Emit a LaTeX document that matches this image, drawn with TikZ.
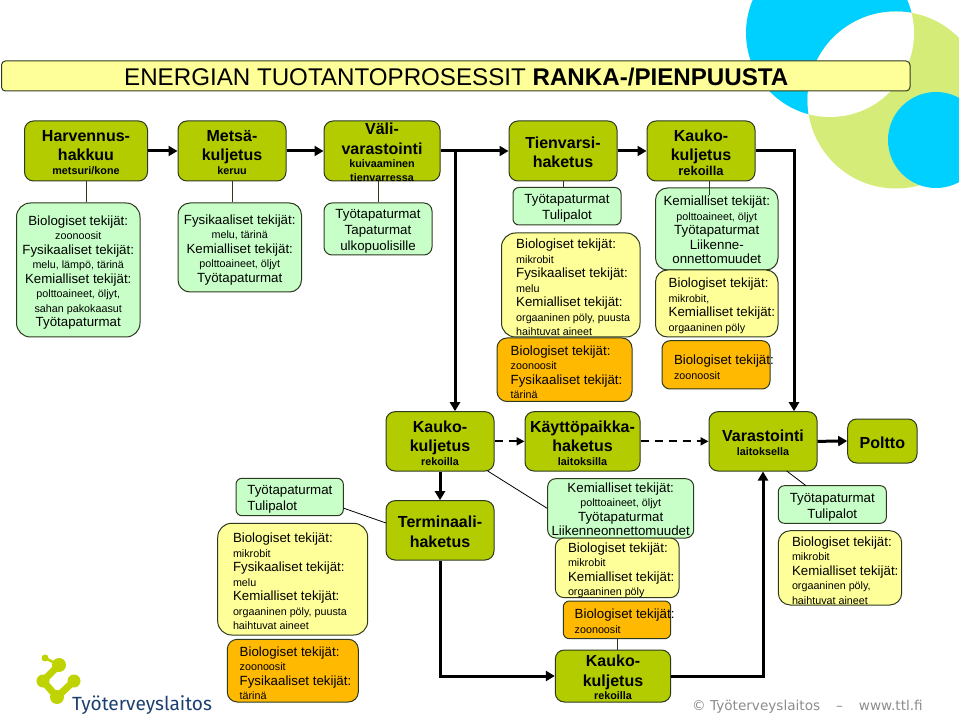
\documentclass[tikz,border=0pt]{standalone}
\usepackage{fontspec}
\setmainfont{Liberation Sans}
\newfontfamily\ttlfont{DejaVu Sans}
\newfontfamily\logofont{Fira Sans}
\usetikzlibrary{positioning, arrows.meta}
\definecolor{vihrea}{HTML}{B2CC00}
\definecolor{vaalea}{HTML}{C8FFC8}
\definecolor{keltainen}{HTML}{FFFF99}
\definecolor{oranssi}{HTML}{FFB900}
\definecolor{syaani}{HTML}{00D0FF}
\definecolor{limetti}{HTML}{D5EC78}
\definecolor{reuna}{HTML}{2E3A20}
\definecolor{logovari}{HTML}{BFD300}
\definecolor{logoteksti}{HTML}{1C3F70}
\newcommand{\ruutu}[6]{\node[#1, minimum width={(#5-#3)*1pt}, minimum height={(#6-#4)*1pt}] (#2) at ({(#3+#5)/2},{(#4+#6)/2}) {};}
\newcommand{\pieni}[1]{{\fontsize{10.75}{14.5}\selectfont #1}}
\newcommand{\alle}[1]{{\fontsize{10.8}{13}\selectfont #1}}
\tikzset{
laatikko/.style = {draw = reuna, line width = 1pt, inner sep = 0pt},
vaihe/.style = {laatikko, fill = vihrea, rounded corners = 9pt},
turva/.style = {laatikko, fill = vaalea},
kemia/.style = {laatikko, fill = keltainen},
bio/.style = {laatikko, fill = oranssi},
otsikko/.style = {inner sep = 0pt, align = center, yshift = -1.5pt, font = \fontsize{16}{19.5}\selectfont\bfseries},
riski/.style = {inner sep = 0pt, align = center, yshift = -2.5pt, font = \fontsize{13.3}{14.5}\selectfont},
vasen/.style = {inner sep = 0pt, align = left, yshift = -2.5pt, font = \fontsize{13.3}{14.5}\selectfont},
viiva/.style = {draw = reuna, line width = 0.8pt},
virta/.style = {line width = 3pt, -{Triangle[length = 9pt, width = 10pt]}},
katko/.style = {line width = 2pt, dash pattern = on 8pt off 6pt, -{Triangle[length = 8pt, width = 8pt]}}
}
\begin{document}
\begin{tikzpicture}[x = 1pt, y = -1pt]
\useasboundingbox (0,0) rectangle (959,719);
\fill[syaani] (830,33) circle (84);
\fill[limetti] (896,100) circle (88.5);
\begin{scope}
\clip (830,33) circle (84);
\fill[white] (896,100) circle (88.5);
\end{scope}
\fill[syaani] (936,140) circle (48);
\ruutu{laatikko, fill = keltainen, rounded corners = 4pt}{otsake}{1.5}{61}{910}{91}
\node[inner sep = 0pt, anchor = west, font = \fontsize{24.15}{28}\selectfont] (otsaketeksti) at (124,77) {ENERGIAN TUOTANTOPROSESSIT \textbf{RANKA-/PIENPUUSTA}};
\ruutu{vaihe}{harv}{24.5}{121}{147.5}{181}
\node[otsikko] (harvt) at (harv) {Harvennus-\\hakkuu\\[-6pt]\alle{metsuri/kone}};
\ruutu{vaihe}{mets}{178}{121}{286}{181}
\node[otsikko] (metst) at (mets) {Metsä-\\kuljetus\\[-6pt]\alle{keruu}};
\ruutu{vaihe}{vali}{324}{121}{440}{181}
\node[otsikko] (valit) at (vali) {Väli-\\varastointi\\[-6pt]\alle{kuivaaminen}\\[-6pt]\alle{tienvarressa}};
\ruutu{vaihe}{tien}{509}{121}{617}{181}
\node[otsikko] (tient) at (tien) {Tienvarsi-\\haketus};
\ruutu{vaihe}{kauko}{647}{121}{755}{181}
\node[otsikko] (kaukot) at (kauko) {Kauko-\\kuljetus\\[-5pt]\fontsize{12.9}{15}\selectfont rekoilla};
\ruutu{turva, rounded corners = 14pt}{harvr}{16.5}{203}{140}{337}
\node[riski] (harvrt) at (harvr) {Biologiset tekijät:\\\pieni{zoonoosit}\\Fysikaaliset tekijät:\\\pieni{melu, lämpö, tärinä}\\Kemialliset tekijät:\\\pieni{polttoaineet, öljyt,}\\\pieni{sahan pakokaasut}\\Työtapaturmat};
\ruutu{turva, rounded corners = 12pt}{metsr}{178}{203}{301.5}{292}
\node[riski] (metsrt) at (metsr) {Fysikaaliset tekijät:\\\pieni{melu, tärinä}\\Kemialliset tekijät:\\\pieni{polttoaineet, öljyt}\\Työtapaturmat};
\ruutu{turva, rounded corners = 8pt}{valir}{324}{203}{432}{255}
\node[riski, font = \fontsize{13.3}{16}\selectfont] (valirt) at (valir) {Työtapaturmat\\Tapaturmat\\ulkopuolisille};
\ruutu{turva, rounded corners = 6pt}{tienr}{513}{187.5}{621}{225}
\node[riski, font = \fontsize{13.3}{16}\selectfont] (tienrt) at (tienr) {Työtapaturmat\\Tulipalot};
\ruutu{kemia, rounded corners = 14pt}{tienk}{501.5}{233}{640}{337}
\node[vasen, right = 15pt of tienk.west] (tienkt) {Biologiset tekijät:\\\pieni{mikrobit}\\Fysikaaliset tekijät:\\\pieni{melu}\\Kemialliset tekijät:\\\pieni{orgaaninen pöly, puusta}\\\pieni{haihtuvat aineet}};
\ruutu{bio, rounded corners = 10pt}{tienb}{497}{338}{632}{401.5}
\node[vasen, right = 14pt of tienb.west] (tienbt) {Biologiset tekijät:\\\pieni{zoonoosit}\\Fysikaaliset tekijät:\\\pieni{tärinä}};
\ruutu{turva, rounded corners = 12pt}{kaukor}{655.5}{188}{778}{270}
\node[riski, yshift = 1.5pt] (kaukort) at (kaukor) {Kemialliset tekijät:\\\pieni{polttoaineet, öljyt}\\Työtapaturmat\\Liikenne-\\onnettomuudet};
\ruutu{kemia, rounded corners = 12pt}{kaukok}{655.5}{270}{778}{337}
\node[vasen, right = 13.5pt of kaukok.west] (kaukokt) {Biologiset tekijät:\\\pieni{mikrobit,}\\Kemialliset tekijät:\\\pieni{orgaaninen pöly}};
\ruutu{bio, rounded corners = 8pt}{kaukob}{662}{340.7}{770}{389}
\node[vasen, right = 12.3pt of kaukob.west] (kaukobt) {Biologiset tekijät:\\\pieni{zoonoosit}};
\ruutu{vaihe}{kauko2}{386}{411.7}{494}{471}
\node[otsikko] (kauko2t) at (kauko2) {Kauko-\\kuljetus\\[-6pt]\alle{rekoilla}};
\ruutu{vaihe}{kaytto}{525}{411.7}{640}{471}
\node[otsikko] (kayttot) at (kaytto) {Käyttöpaikka-\\haketus\\[-6pt]\alle{laitoksilla}};
\ruutu{vaihe}{varast}{709}{411.7}{817}{471}
\node[otsikko] (varastt) at (varast) {Varastointi\\[-6pt]\alle{laitoksella}};
\ruutu{vaihe}{poltto}{847.7}{419}{917}{463}
\node[otsikko] (polttot) at (poltto) {Poltto};
\ruutu{vaihe}{termi}{386}{500.7}{494}{560}
\node[otsikko] (termit) at (termi) {Terminaali-\\haketus};
\ruutu{vaihe}{kauko3}{555.3}{650}{670.7}{702}
\node[otsikko] (kauko3t) at (kauko3) {Kauko-\\kuljetus\\[-6pt]\alle{rekoilla}};
\ruutu{turva, rounded corners = 6pt}{termr}{236}{478.3}{343.3}{515.7}
\node[vasen, font = \fontsize{13.3}{16}\selectfont, right = 11.7pt of termr.west] (termrt) {Työtapaturmat\\Tulipalot};
\ruutu{kemia, rounded corners = 14pt}{termk}{217.7}{523.3}{367.7}{635}
\node[vasen, right = 15.6pt of termk.west] (termkt) {Biologiset tekijät:\\\pieni{mikrobit}\\Fysikaaliset tekijät:\\\pieni{melu}\\Kemialliset tekijät:\\\pieni{orgaaninen pöly, puusta}\\\pieni{haihtuvat aineet}};
\ruutu{bio, rounded corners = 10pt}{termb}{227.3}{639.3}{358.3}{702}
\node[vasen, right = 12.7pt of termb.west] (termbt) {Biologiset tekijät:\\\pieni{zoonoosit}\\Fysikaaliset tekijät:\\\pieni{tärinä}};
\ruutu{turva, rounded corners = 8pt}{kaytr}{547.7}{478.7}{693.7}{538}
\node[riski, yshift = 1.5pt] (kaytrt) at (kaytr) {Kemialliset tekijät:\\\pieni{polttoaineet, öljyt}\\Työtapaturmat\\Liikenneonnettomuudet};
\ruutu{kemia, rounded corners = 9pt}{kaytk}{555.3}{538}{679}{597.7}
\node[vasen, right = 13pt of kaytk.west] (kaytkt) {Biologiset tekijät:\\\pieni{mikrobit}\\Kemialliset tekijät:\\\pieni{orgaaninen pöly}};
\ruutu{bio, rounded corners = 6pt}{kaytb}{563.3}{601}{670.7}{638.7}
\node[vasen, yshift = 1pt, right = 11.7pt of kaytb.west] (kaytbt) {Biologiset tekijät:\\\pieni{zoonoosit}};
\ruutu{turva, rounded corners = 6pt}{varastr}{778.3}{485.7}{886.3}{523.3}
\node[riski, font = \fontsize{13.3}{16}\selectfont] (varastrt) at (varastr) {Työtapaturmat\\Tulipalot};
\ruutu{kemia, rounded corners = 12pt}{varastk}{778.3}{530.7}{901.7}{605}
\node[vasen, right = 14pt of varastk.west] (varastkt) {Biologiset tekijät:\\\pieni{mikrobit}\\Kemialliset tekijät:\\\pieni{orgaaninen pöly,}\\\pieni{haihtuvat aineet}};
\coordinate (runko) at (455,151);
\coordinate (kaukokulma) at (794,151);
\coordinate (kaukovika) at (709.3,195);
\coordinate (kayttovika) at (487.7,471);
\coordinate (varastvika) at (786.7,471);
\coordinate (varastpaa) at (806,485.7);
\coordinate (termrvika) at (344,508.3);
\coordinate (termvika) at (386,523);
\coordinate (kaytbvika) at (617,638.7);
\draw[virta] (harv.east) -- (mets.west);
\draw[virta] (mets.east) -- (vali.west);
\draw[virta] (vali.east) -- (tien.west);
\draw[virta] (tien.east) -- (kauko.west);
\draw[virta] (runko) -- (runko |- kauko2.north);
\draw[virta] (kauko.east) -- (kaukokulma) -- (kaukokulma |- varast.north);
\draw[virta] (kauko2.south) -- (termi.north);
\draw[virta] (termi.south) |- (kauko3.west);
\draw[virta] (kauko3.east) -| (varast.south);
\draw[virta] (varast.east) -- (poltto.west);
\draw[katko] (kauko2.east) -- (kaytto.west);
\draw[katko] (kaytto.east) -- (varast.west);
\draw[viiva] (harv.south) -- (harv.south |- harvr.north);
\draw[viiva] (mets.south) -- (mets.south |- metsr.north);
\draw[viiva] (valir.north |- vali.south) -- (valir.north);
\draw[viiva] (tien.south) -- (tien.south |- tienr.north);
\draw[viiva] (kaukovika |- kauko.south) -- (kaukovika);
\draw[line width = 0.8pt] (kayttovika) -- (kaytr.west);
\draw[line width = 0.8pt] (varastvika) -- (varastpaa);
\draw[line width = 0.8pt] (termrvika) -- (termvika);
\draw[viiva] (kaytbvika) -- (kaytbvika |- kauko3.north);
\draw[logovari, line width = 2.5pt] (45,658) -- (59,665);
\draw[logovari, line width = 7pt, line cap = round, line join = round] (59,665) -- (43,681) -- (57,697) -- (74,681);
\fill[logovari] (45,658) circle (3.5);
\fill[logovari] (59,665) circle (7);
\fill[logovari] (43,681) circle (6.5);
\fill[logovari] (74,681) circle (6.5);
\fill[logovari] (57,697) circle (7);
\node[inner sep = 0pt, anchor = base west, text = logoteksti, font = \logofont\fontsize{19.1}{24}\selectfont] (logo) at (72,710) {Työterveyslaitos};
\node[inner sep = 0pt, anchor = base west, text = black!45, font = \ttlfont\fontsize{13.6}{16}\selectfont] (ttl) at (692,710) {© Työterveyslaitos\hspace{16pt}–\hspace{16pt}www.ttl.fi};
\end{tikzpicture}
\end{document}
